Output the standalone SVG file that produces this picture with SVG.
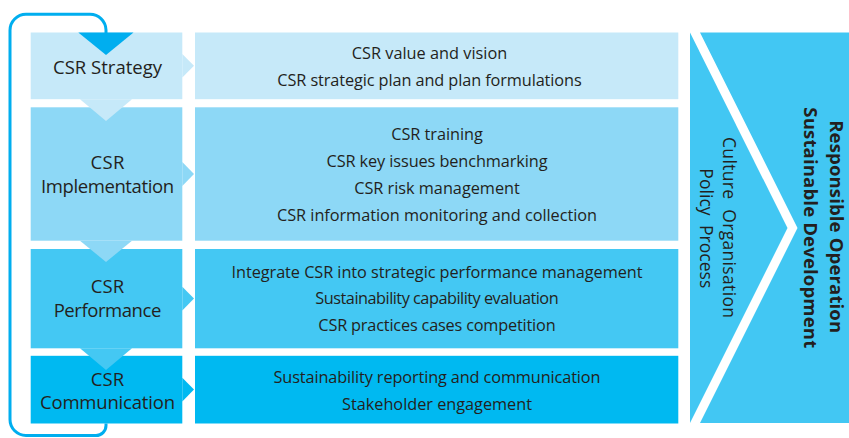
<svg xmlns="http://www.w3.org/2000/svg" width="849" height="438" viewBox="0 0 849 438">
  <style>
    .t { font-family: "Open Sans", "Liberation Sans", sans-serif; fill: #231f20; }
    .body { font-size: 16.3px; text-anchor: middle; }
    .lbl { font-size: 18.5px; text-anchor: middle; }
    .vert { font-size: 17.5px; text-anchor: middle; }
    .bold { font-size: 18.6px; font-weight: bold; text-anchor: middle; }
    .c1 { fill: #c6e9f9; }
    .c2 { fill: #8dd8f6; }
    .c3 { fill: #44c8f3; }
    .c4 { fill: #00b9f1; }
    .cr { fill: #42c7f3; }
    .loop { fill: none; stroke: #00aeef; stroke-width: 3; }
  </style>
  <rect width="849" height="438" fill="#ffffff"/>

  <g id="node-strategy">
    <rect class="c1" x="30.7" y="32.5" width="151.6" height="66.7"/>
    <polygon class="c1" points="182.3,54 194,65.8 182.3,77.6"/>
    <text class="t lbl" x="107.5" y="73.5" textLength="109">CSR Strategy</text>
  </g>
  <g id="node-strategy-detail">
    <rect class="c1" x="195" y="32.5" width="483.3" height="66.7"/>
    <text class="t body" x="429.5" y="59" textLength="155.6">CSR value and vision</text>
    <text class="t body" x="429.5" y="85.5" textLength="304.4">CSR strategic plan and plan formulations</text>
  </g>

  <g id="node-implementation">
    <rect class="c2" x="30.7" y="107.3" width="151.6" height="133.4"/>
    <polygon class="c2" points="182.3,162 194,174 182.3,186"/>
    <text class="t lbl" x="107.5" y="169" textLength="34">CSR</text>
    <text class="t lbl" x="107.5" y="192.5" textLength="133">Implementation</text>
  </g>
  <g id="node-implementation-detail">
    <rect class="c2" x="195" y="107.3" width="483.3" height="133.4"/>
    <text class="t body" x="437" y="139.5" textLength="91.7">CSR training</text>
    <text class="t body" x="437" y="166.5" textLength="221">CSR key issues benchmarking</text>
    <text class="t body" x="437" y="193.5" textLength="165.7">CSR risk management</text>
    <text class="t body" x="437" y="220.5" textLength="320">CSR information monitoring and collection</text>
  </g>

  <g id="node-performance">
    <rect class="c3" x="30.7" y="249" width="151.6" height="99.3"/>
    <polygon class="c3" points="182.3,286.7 194,298.6 182.3,310.5"/>
    <text class="t lbl" x="107.5" y="293.3" textLength="33.5">CSR</text>
    <text class="t lbl" x="107.5" y="316.7" textLength="107.7">Performance</text>
  </g>
  <g id="node-performance-detail">
    <rect class="c3" x="195" y="249" width="483.3" height="99.3"/>
    <text class="t body" x="437" y="277.5" textLength="411">Integrate CSR into strategic performance management</text>
    <text class="t body" x="437" y="304.3" textLength="243.3">Sustainability capability evaluation</text>
    <text class="t body" x="437" y="331" textLength="237.3">CSR practices cases competition</text>
  </g>

  <g id="node-communication">
    <rect class="c4" x="30.7" y="355.8" width="151.6" height="67.7"/>
    <polygon class="c4" points="182.3,377.7 194,389.6 182.3,401.5"/>
    <text class="t lbl" x="107.5" y="385.7" textLength="33.5">CSR</text>
    <text class="t lbl" x="107.5" y="409.3" textLength="135">Communication</text>
  </g>
  <g id="node-communication-detail">
    <rect class="c4" x="195" y="355.8" width="483.3" height="67.7"/>
    <text class="t body" x="437" y="383" textLength="327">Sustainability reporting and communication</text>
    <text class="t body" x="437" y="409.5" textLength="190">Stakeholder engagement</text>
  </g>

  <g id="node-outcome">
    <polygon class="cr" points="690,32.5 787.5,228 690,423"/>
    <polygon class="cr" points="700,32.5 849,32.5 849,423 700,423 797.5,228"/>
    <text class="t vert" transform="translate(723.3,227.5) rotate(90)" textLength="181" xml:space="preserve">Culture  Organisation</text>
    <text class="t vert" transform="translate(700,228.3) rotate(90)" textLength="120" xml:space="preserve">Policy  Process</text>
    <text class="t bold" transform="translate(829.5,226.7) rotate(90)" textLength="213">Responsible Operation</text>
    <text class="t bold" transform="translate(804,227.8) rotate(90)" textLength="241">Sustainable Development</text>
  </g>

  <g id="connectors">
    <path class="loop" d="M106,33 V30 A16,16 0 0 0 90,14.3 H26 A16,16 0 0 0 10,30.3 V419.5 A16,16 0 0 0 26,435.5 H96 A10,10 0 0 0 106,425.5 V423.5"/>
    <polygon fill="#00aeef" points="78.3,32.5 133.5,32.5 106,55"/>
    <polygon class="c1" points="80,99.2 132,99.2 106,121"/>
    <polygon class="c2" points="80,240.7 132,240.7 106,262"/>
    <polygon class="c3" points="80,348.3 132,348.3 106,370"/>
  </g>
</svg>
